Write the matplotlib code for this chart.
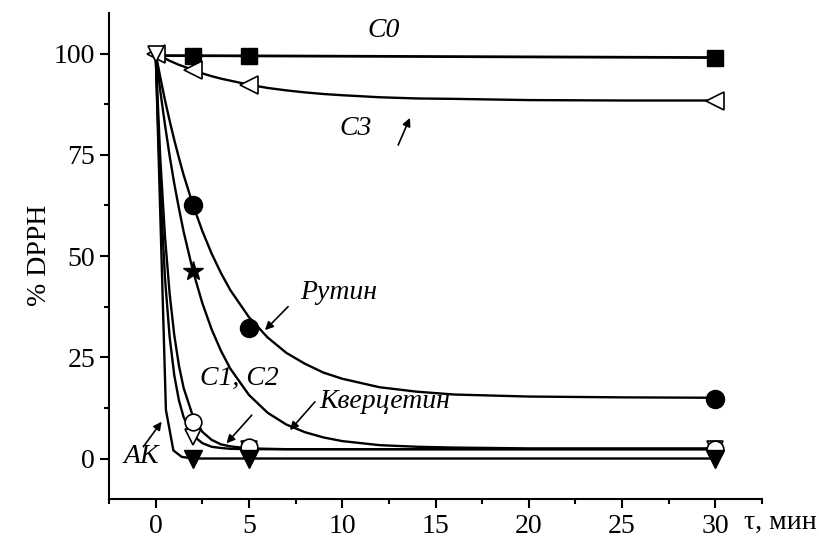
import matplotlib
matplotlib.use('Agg')
import matplotlib.pyplot as plt
from matplotlib.ticker import MultipleLocator

plt.rcParams['font.family'] = ['Liberation Serif', 'DejaVu Serif']

# ---- measured points ----
t_c0 = [2, 5, 30]
y_c0 = [99.5, 99.5, 99.0]
t_c3 = [0, 2, 5, 30]
y_c3 = [100, 96.0, 92.2, 88.3]
t_rutin = [2, 5, 30]
y_rutin = [62.6, 32.3, 14.8]
t_querc = [2]
y_querc = [46.3]
t_c1 = [0, 2, 5, 30]
y_c1 = [100, 5.4, 2.3, 2.3]
t_c2 = [2, 5, 30]
y_c2 = [9.1, 2.8, 2.3]
t_ak = [2, 5, 30]
y_ak = [0, 0, 0]

# ---- fitted curves ----
fit_t = [0, 0.25, 0.5, 0.75, 1, 1.25, 1.5, 2, 2.5, 3, 3.5, 4, 5, 6, 7, 8, 9, 10,
         12, 14, 16, 20, 25, 30]
fit_c3 = [100, 99.4, 98.8, 98.2, 97.7, 97.2, 96.8, 95.9, 95.1, 94.4, 93.8, 93.3,
          92.3, 91.5, 90.9, 90.4, 90.0, 89.7, 89.2, 88.9, 88.8, 88.5, 88.4, 88.4]
fit_rutin = [100, 94.1, 88.5, 83.4, 78.6, 74.2, 70.0, 62.6, 56.2, 50.6, 45.8, 41.6,
             34.9, 29.9, 26.1, 23.4, 21.2, 19.7, 17.6, 16.5, 15.8, 15.3, 15.1, 15.0]
fit_querc = [100, 90.7, 82.4, 74.7, 67.8, 61.7, 56.0, 46.3, 38.4, 31.9, 26.6, 22.2,
             15.7, 11.3, 8.4, 6.5, 5.2, 4.3, 3.3, 2.9, 2.7, 2.5, 2.5, 2.5]
fit_c2 = [100, 73.9, 54.8, 40.7, 30.4, 22.9, 17.4, 10.4, 6.6, 4.6, 3.5, 3.0,
          2.5, 2.4, 2.3, 2.3, 2.3, 2.3, 2.3, 2.3, 2.3, 2.3, 2.3, 2.3]
fit_c1 = [100, 66.5, 44.5, 30.0, 20.5, 14.3, 10.2, 5.7, 3.8, 2.9, 2.6, 2.4,
          2.3, 2.3, 2.3, 2.3, 2.3, 2.3, 2.3, 2.3, 2.3, 2.3, 2.3, 2.3]
line_c0_t = [0, 30]
line_c0_y = [99.5, 99.0]
line_ak_t = [0, 0.55, 0.95, 1.4, 2, 5, 30]
line_ak_y = [100, 12, 2, 0.4, 0, 0, 0]

x_ticks = [0, 5, 10, 15, 20, 25, 30]
y_ticks = [0, 25, 50, 75, 100]

fig = plt.figure(figsize=(8.19, 5.40), dpi=100)
ax = fig.add_axes([0.1331, 0.0759, 0.7973, 0.900])

lw = 1.7
ax.plot(line_c0_t, line_c0_y, color='k', lw=2.0, zorder=2)
ax.plot(fit_t, fit_c3, color='k', lw=lw, zorder=2)
ax.plot(fit_t, fit_rutin, color='k', lw=lw, zorder=2)
ax.plot(fit_t, fit_querc, color='k', lw=lw, zorder=2)
ax.plot(fit_t, fit_c2, color='k', lw=lw, zorder=2)
ax.plot(fit_t, fit_c1, color='k', lw=lw, zorder=2)
ax.plot(line_ak_t, line_ak_y, color='k', lw=lw, zorder=2)

mk = dict(ls='none', color='k', zorder=3)
ax.plot(t_c0, y_c0, marker='s', ms=12, mfc='k', mec='k', **mk)
ax.plot(t_c3, y_c3, marker='<', ms=13, mfc='white', mec='k', mew=1.2, **mk)
ax.plot(t_rutin, y_rutin, marker='o', ms=13, mfc='k', mec='k', **mk)
ax.plot(t_querc, y_querc, marker='*', ms=15, mfc='k', mec='k', **mk)
ax.plot(t_c1, y_c1, marker='v', ms=12, mfc='white', mec='k', mew=1.2, **mk)
ax.plot(t_c2, y_c2, marker='o', ms=12, mfc='white', mec='k', mew=1.2, **mk)
ax.plot(t_ak, y_ak, marker='v', ms=13, mfc='k', mec='k', **mk)

ax.set_xlim(-2.5, 32.5)
ax.set_ylim(-10, 110)
ax.set_xticks(x_ticks)
ax.set_yticks(y_ticks)
ax.xaxis.set_minor_locator(MultipleLocator(2.5))
ax.yaxis.set_minor_locator(MultipleLocator(12.5))
for s in ['top', 'right']:
    ax.spines[s].set_visible(False)
for s in ['left', 'bottom']:
    ax.spines[s].set_linewidth(1.5)
ax.tick_params(which='major', direction='out', length=6.5, width=1.5, labelsize=20)
ax.tick_params(which='minor', direction='out', length=3.5, width=1.5)
ax.tick_params(axis='x', pad=4)

fig.text(40 / 819, 1 - 255 / 540, '% DPPH', rotation=90, fontsize=20,
         ha='center', va='center')
fig.text(744 / 819, 1 - 522 / 540, 'τ, мин', fontsize=20, ha='left', va='center')

tk = dict(fontsize=20, style='italic', ha='center', va='center')
ax.text(12.2, 105.8, 'C0', **tk)
ax.text(10.7, 81.6, 'C3', **tk)
ax.text(9.8, 40.9, 'Рутин', **tk)
ax.text(12.3, 14.2, 'Кверцетин', **tk)
ax.text(4.47, 19.9, 'C1, C2', **tk)
ax.text(-0.75, 0.6, 'АК', **tk)

ap = dict(arrowstyle='-|>', color='k', lw=1.2, mutation_scale=12, shrinkA=0, shrinkB=0)
ax.annotate('', xy=(13.63, 84.1), xytext=(13.0, 77.4), arrowprops=ap)
ax.annotate('', xy=(5.86, 31.7), xytext=(7.1, 37.5), arrowprops=ap)
ax.annotate('', xy=(7.2, 7.0), xytext=(8.54, 14.0), arrowprops=ap)
ax.annotate('', xy=(3.8, 3.75), xytext=(5.15, 10.7), arrowprops=ap)
ax.annotate('', xy=(0.32, 9.1), xytext=(-0.66, 2.9), arrowprops=ap)

fig.savefig('out.png', dpi=100)
